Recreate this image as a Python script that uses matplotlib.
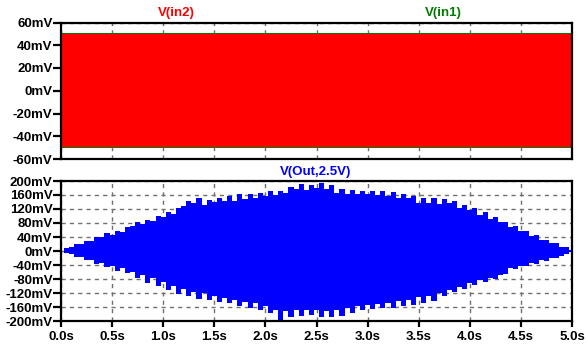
import numpy as np
import matplotlib
matplotlib.use("Agg")
import matplotlib.pyplot as plt

plt.rcParams['font.family'] = ['Liberation Sans', 'DejaVu Sans']

# ---- data ----
t_in = [0.0, 5.0]
in1_upper = [50.9, 50.9]
in1_lower = [-50.7, -50.7]
in2_upper = [49.8, 49.8]
in2_lower = [-49.8, -49.8]

t_out = [round(0.05 * i, 2) for i in range(101)]
out_upper = [0, 9, 11, 19, 21, 29, 28, 40, 40, 50,
             47, 58, 55, 68, 70, 82, 76, 88, 86, 100,
             96, 112, 106, 122, 128, 142, 138, 150, 132, 146,
             140, 150, 142, 156, 144, 164, 148, 162, 150, 166,
             156, 170, 160, 172, 166, 182, 176, 192, 174, 190,
             180, 194, 178, 188, 166, 176, 162, 174, 164, 172,
             162, 170, 160, 170, 158, 168, 152, 162, 150, 158,
             138, 150, 136, 152, 134, 148, 136, 142, 124, 132,
             116, 124, 104, 110, 90, 96, 82, 84, 68, 70,
             56, 58, 44, 46, 32, 32, 22, 24, 12, 10, 2]
out_lower = [0, -7, -9, -16, -18, -26, -25, -36, -34, -46,
             -42, -56, -50, -64, -60, -76, -68, -92, -78, -100,
             -90, -112, -100, -124, -110, -130, -118, -136, -120, -140,
             -128, -146, -134, -150, -140, -156, -146, -162, -150, -168,
             -158, -178, -168, -196, -172, -190, -170, -186, -168, -184,
             -170, -190, -172, -188, -168, -186, -164, -176, -158, -168,
             -154, -166, -152, -164, -150, -162, -144, -156, -140, -154,
             -132, -150, -130, -144, -120, -130, -112, -118, -102, -108,
             -92, -98, -84, -90, -76, -80, -70, -66, -50, -52,
             -42, -44, -34, -36, -26, -28, -20, -20, -13, -9, -2]

top_yticks = [60, 40, 20, 0, -20, -40, -60]
bot_yticks = [200, 160, 120, 80, 40, 0, -40, -80, -120, -160, -200]
xticks = [0.0, 0.5, 1.0, 1.5, 2.0, 2.5, 3.0, 3.5, 4.0, 4.5, 5.0]

RED = '#ff0000'
GREEN = '#007a00'
BLUE = '#0000ff'
FS = 9.5

fig = plt.figure(figsize=(5.88, 3.51), dpi=100)
W, H = 588, 351
def rect(l, r, t, b):
    return [l / W, 1 - b / H, (r - l) / W, (b - t) / H]

ax1 = fig.add_axes(rect(61, 572, 22.5, 159))
ax2 = fig.add_axes(rect(61, 572, 181, 321))

for ax in (ax1, ax2):
    ax.set_xlim(0, 5)
    ax.grid(True, color='#707070', linestyle=(0, (3, 3)), linewidth=1.0)
    ax.set_axisbelow(True)
    for s in ax.spines.values():
        s.set_linewidth(1.6)
        s.set_color('black')
    ax.set_xticks(xticks)
    ax.tick_params(axis='y', direction='out', length=5.5, width=1.6, pad=0.5)

# top panel
ax1.fill_between(t_in, in1_lower, in1_upper, color=GREEN, linewidth=0)
ax1.fill_between(t_in, in2_lower, in2_upper, color=RED, linewidth=0)
ax1.set_ylim(-60, 60)
ax1.set_yticks(top_yticks)
ax1.set_yticklabels([f"{v}mV" for v in top_yticks], fontweight='bold', fontsize=FS)
ax1.tick_params(axis='x', length=0, labelbottom=False)

# bottom panel
ax2.fill_between(t_out, out_lower, out_upper, step='mid', color=BLUE, linewidth=0)
ax2.set_ylim(-200, 200)
ax2.set_yticks(bot_yticks)
ax2.set_yticklabels([f"{v}mV" for v in bot_yticks], fontweight='bold', fontsize=FS)
ax2.set_xticklabels([f"{v:.1f}s" for v in xticks], fontweight='bold', fontsize=FS)
ax2.tick_params(axis='x', direction='out', length=4, width=1.6, pad=3)

# trace labels
fig.text(176 / W, 1 - 13 / H, "V(in2)", color=RED, fontsize=FS, fontweight='bold',
         ha='center', va='center')
fig.text(443 / W, 1 - 13 / H, "V(in1)", color=GREEN, fontsize=FS, fontweight='bold',
         ha='center', va='center')
fig.text(316 / W, 1 - 172 / H, "V(Out,2.5V)", color=BLUE, fontsize=FS, fontweight='bold',
         ha='center', va='center')

fig.savefig("out.png", dpi=100)
